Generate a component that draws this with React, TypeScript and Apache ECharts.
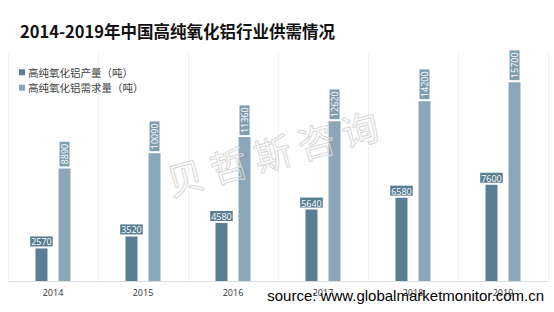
import React, { useEffect, useRef } from "react";
import * as echarts from "echarts";

const categories = ["2014", "2015", "2016", "2017", "2018", "2019"];
const production = [2570, 3520, 4580, 5640, 6580, 7600];
const demand = [8890, 10090, 11360, 12620, 14200, 15700];
const seriesNames = ["高纯氧化铝产量（吨）", "高纯氧化铝需求量（吨）"];
const titleText = "2014-2019年中国高纯氧化铝行业供需情况";
const sourceText = "source: www.globalmarketmonitor.com.cn";
const watermarkText = "贝 哲 斯 咨 询";

const DARK = "#5a7e93";
const LIGHT = "#8aa7b9";

export default function App() {
  const ref = useRef<HTMLDivElement>(null);
  useEffect(() => {
    if (!ref.current) return;
    const chart = echarts.init(ref.current, undefined, { renderer: "svg" });
    chart.setOption({
      animation: false,
      backgroundColor: "#ffffff",
      textStyle: { fontFamily: "'Open Sans', 'Noto Sans CJK SC', sans-serif" },
      title: {
        text: titleText,
        left: 15,
        top: 18,
        textStyle: {
          fontSize: 16.5,
          fontWeight: "bold",
          color: "#111111",
          fontFamily: "'Noto Sans CJK SC', sans-serif",
        },
      },
      legend: {
        orient: "vertical",
        left: 14,
        top: 62,
        itemWidth: 6,
        itemHeight: 6,
        itemGap: 5,
        icon: "rect",
        textStyle: {
          fontSize: 10.5,
          color: "#404040",
          fontFamily: "'Noto Sans CJK SC', sans-serif",
          padding: [0, 0, 0, -2],
        },
        data: seriesNames,
      },
      grid: { left: 8, right: 6, top: 53, bottom: 31, containLabel: false },
      xAxis: {
        type: "category",
        data: categories,
        axisLine: { show: true, lineStyle: { color: "#dddddd", width: 1 } },
        axisTick: { show: false },
        splitLine: { show: true, lineStyle: { color: "#f0f0f0", width: 1 } },
        axisLabel: {
          color: "#333333",
          fontSize: 9,
          margin: 7,
          fontFamily: "'Open Sans', sans-serif",
        },
      },
      yAxis: {
        type: "value",
        min: 0,
        max: 18000,
        show: false,
        splitLine: { show: false },
      },
      series: [
        {
          name: seriesNames[0],
          type: "bar",
          data: production,
          barWidth: 12,
          barGap: "92%",
          itemStyle: { color: DARK },
          label: {
            show: true,
            position: "top",
            distance: 2,
            color: "#ffffff",
            fontSize: 9,
            backgroundColor: DARK,
            borderColor: "#ffffff",
            borderWidth: 1,
            padding: [1, 1, 0, 1],
            fontFamily: "'Open Sans', sans-serif",
          },
        },
        {
          name: seriesNames[1],
          type: "bar",
          data: demand,
          barWidth: 12,
          itemStyle: { color: LIGHT },
          label: {
            show: true,
            position: "top",
            distance: 2,
            rotate: 90,
            align: "left",
            verticalAlign: "middle",
            color: "#ffffff",
            fontSize: 9,
            backgroundColor: "#7f9db0",
            borderColor: "#ffffff",
            borderWidth: 1,
            padding: [1, 2, 0, 2],
            fontFamily: "'Open Sans', sans-serif",
          },
        },
      ],
      graphic: [
        {
          type: "text",
          x: 272,
          y: 152,
          rotation: 0.27,
          z: 100,
          style: {
            text: watermarkText,
            font: "37px 'Noto Sans CJK SC', sans-serif",
            fill: "rgba(255,255,255,0)",
            stroke: "#d8d8d8",
            lineWidth: 1,
            align: "center",
            verticalAlign: "middle",
          },
        },
        {
          type: "text",
          right: 10,
          top: 288,
          z: 110,
          style: {
            text: sourceText,
            font: "15px 'Liberation Sans', Arial, sans-serif",
            fill: "#000000",
          },
        },
      ],
    });
    return () => chart.dispose();
  }, []);
  return <div ref={ref} style={{ width: 554, height: 312, position: "fixed", left: 0, top: 0 }} />;
}
